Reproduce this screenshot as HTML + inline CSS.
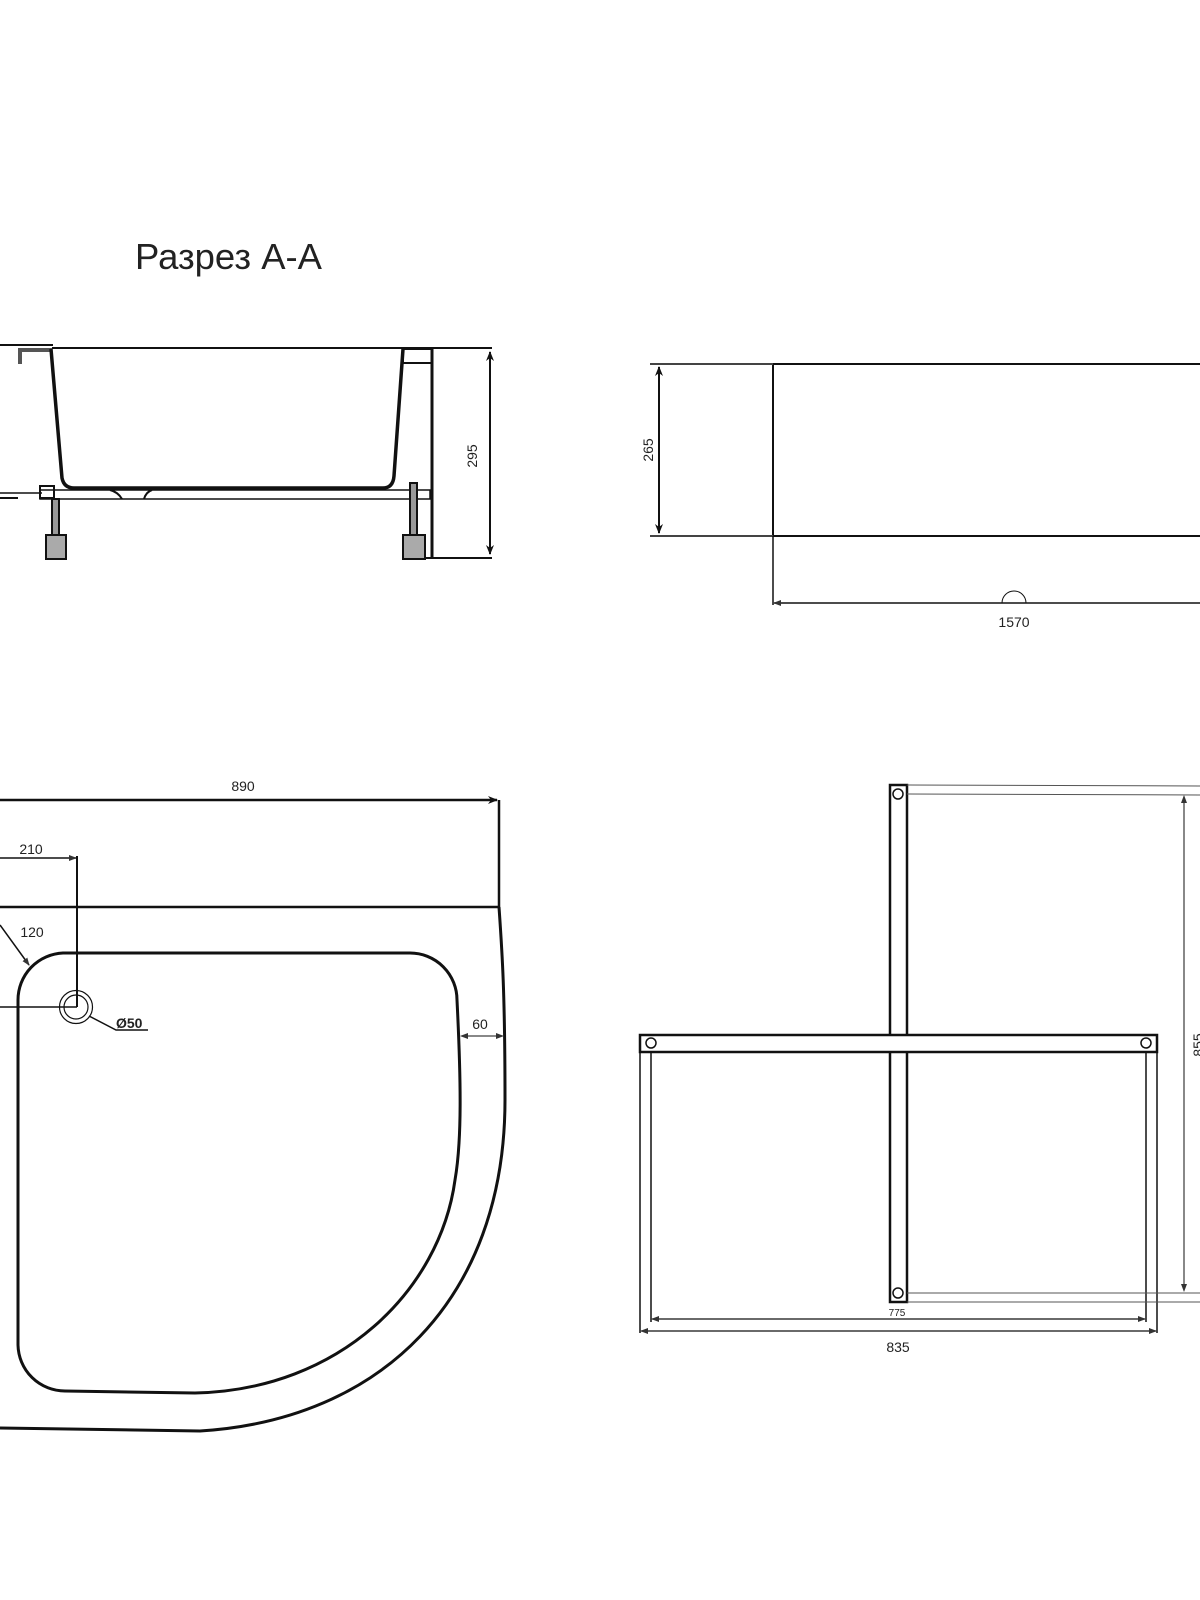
<!DOCTYPE html>
<html><head><meta charset="utf-8"><style>
html,body{margin:0;padding:0;background:#fff;}
svg{display:block;}
text{font-family:"Liberation Sans",sans-serif;fill:#222;}
</style></head><body>
<svg width="1200" height="1600" viewBox="0 0 1200 1600" xmlns="http://www.w3.org/2000/svg">
<defs>
<marker id="a" markerWidth="10" markerHeight="8" refX="9" refY="4" orient="auto-start-reverse" markerUnits="userSpaceOnUse"><path d="M0,0 L10,4 L0,8 L3,4 Z" fill="#111"/></marker>
<marker id="s" markerWidth="8" markerHeight="6" refX="7" refY="3" orient="auto-start-reverse" markerUnits="userSpaceOnUse"><path d="M0,0 L8,3 L0,6 Z" fill="#333"/></marker>
</defs>

<text x="135" y="269" font-size="36" textLength="187" lengthAdjust="spacingAndGlyphs" fill="#111">Разрез А-А</text>

<g stroke="#111" fill="none">
<line x1="52" y1="348" x2="492" y2="348" stroke-width="2"/>
<line x1="0" y1="345" x2="53" y2="345" stroke-width="2"/>
<path d="M20,364 L20,350 L52,350" stroke-width="4" stroke="#555"/>
<path d="M51,349 L62,478 Q64,488 74,488 L383,488 Q393,488 394,476 L403,349" stroke-width="3.5"/>
<rect x="403" y="349" width="29" height="14" stroke-width="2"/>
<line x1="432" y1="348" x2="432" y2="558" stroke-width="3"/>
<line x1="405" y1="558" x2="492" y2="558" stroke-width="2"/>
<line x1="490" y1="352" x2="490" y2="554" stroke-width="2" marker-start="url(#a)" marker-end="url(#a)"/>
<path d="M40,490 L430,490 L430,499 L150,499 Q145,499 140,499 L120,499 L40,499 Z" stroke-width="1.5"/>
<path d="M110,490 Q118,492 122,499 M152,490 Q146,492 144,499" stroke-width="2"/>
<line x1="0" y1="498" x2="18" y2="498" stroke-width="2"/>
<line x1="0" y1="493" x2="42" y2="493" stroke-width="1.5"/>
<rect x="40" y="486" width="14" height="12" stroke-width="2"/>
<rect x="52" y="499" width="7" height="36" stroke-width="2" fill="#999"/>
<rect x="46" y="535" width="20" height="24" stroke-width="2" fill="#aaa"/>
<rect x="410" y="483" width="7" height="52" stroke-width="2" fill="#999"/>
<rect x="403" y="535" width="22" height="24" stroke-width="2" fill="#aaa"/>
</g>
<text transform="translate(477,456) rotate(-90)" font-size="14" text-anchor="middle">295</text>

<g stroke="#111" fill="none">
<rect x="773" y="364" width="440" height="172" stroke-width="2"/>
<line x1="650" y1="364" x2="773" y2="364" stroke-width="2" stroke="#444"/>
<line x1="650" y1="536" x2="773" y2="536" stroke-width="2" stroke="#444"/>
<line x1="659" y1="367" x2="659" y2="533" stroke-width="2" marker-start="url(#a)" marker-end="url(#a)"/>
<line x1="773" y1="536" x2="773" y2="605" stroke-width="1.5"/>
<line x1="774" y1="603" x2="1200" y2="603" stroke-width="1.5" marker-start="url(#s)"/>
<path d="M1002,603 A12,12 0 0 1 1026,603" stroke-width="1"/>
</g>
<text transform="translate(653,450) rotate(-90)" font-size="14" text-anchor="middle">265</text>
<text x="1014" y="627" font-size="14" text-anchor="middle">1570</text>

<g stroke="#111" fill="none">
<line x1="0" y1="800" x2="497" y2="800" stroke-width="2.5" marker-end="url(#a)"/>
<line x1="499" y1="800" x2="499" y2="907" stroke-width="2.5"/>
<line x1="0" y1="907" x2="499" y2="907" stroke-width="2.5"/>
<line x1="0" y1="858" x2="76" y2="858" stroke-width="1.5" marker-end="url(#s)"/>
<line x1="77" y1="856" x2="77" y2="1007" stroke-width="2"/>
<line x1="0" y1="1007" x2="77" y2="1007" stroke-width="1.5"/>
<line x1="0" y1="925" x2="29" y2="965" stroke-width="1.5" marker-end="url(#s)"/>
<path d="M499,907 C502,950 505,990 505,1100 C505,1300 380,1420 200,1431 L0,1428" stroke-width="3"/>
<path d="M63,953 L410,953 A47,47 0 0 1 457,1000 C461,1080 462,1140 455,1180 C440,1290 340,1390 195,1393 L65,1391 A47,47 0 0 1 18,1345 L18,1000 A47,47 0 0 1 63,953 Z" stroke-width="3"/>
<circle cx="76" cy="1007" r="16.5" stroke-width="1.2"/>
<circle cx="76" cy="1007" r="12" stroke-width="1.2"/>
<path d="M89,1016 L116,1030 L148,1030" stroke-width="1.5"/>
<line x1="461" y1="1036" x2="503" y2="1036" stroke-width="1" marker-start="url(#s)" marker-end="url(#s)"/>
</g>
<text x="243" y="791" font-size="14" text-anchor="middle">890</text>
<text x="31" y="854" font-size="14" text-anchor="middle">210</text>
<text x="32" y="937" font-size="14" text-anchor="middle">120</text>
<text x="116" y="1028" font-size="14" font-weight="bold" fill="#111">Ø50</text>
<text x="480" y="1029" font-size="14" text-anchor="middle">60</text>

<g stroke="#111" fill="none">
<rect x="890" y="785" width="17" height="517" stroke-width="2.5" fill="#fff"/>
<rect x="640" y="1035" width="517" height="17" stroke-width="2.5" fill="#fff"/>
<circle cx="898" cy="794" r="5" stroke-width="1.5"/>
<circle cx="898" cy="1293" r="5" stroke-width="1.5"/>
<circle cx="651" cy="1043" r="5" stroke-width="1.5"/>
<circle cx="1146" cy="1043" r="5" stroke-width="1.5"/>
<line x1="640" y1="1052" x2="640" y2="1333" stroke-width="1.5"/>
<line x1="651" y1="1052" x2="651" y2="1322" stroke-width="1.5"/>
<line x1="1146" y1="1052" x2="1146" y2="1322" stroke-width="1.5"/>
<line x1="1157" y1="1052" x2="1157" y2="1333" stroke-width="1.5"/>
<line x1="652" y1="1319" x2="1145" y2="1319" stroke-width="1.2" marker-start="url(#s)" marker-end="url(#s)"/>
<line x1="641" y1="1331" x2="1156" y2="1331" stroke-width="1.2" marker-start="url(#s)" marker-end="url(#s)"/>
<line x1="907" y1="785" x2="1200" y2="786" stroke-width="1" stroke="#555"/>
<line x1="907" y1="794" x2="1200" y2="795" stroke-width="1" stroke="#555"/>
<line x1="907" y1="1293" x2="1200" y2="1293" stroke-width="1" stroke="#555"/>
<line x1="907" y1="1302" x2="1200" y2="1302" stroke-width="1" stroke="#555"/>
<line x1="1184" y1="796" x2="1184" y2="1291" stroke-width="1" marker-start="url(#s)" marker-end="url(#s)"/>
</g>
<text x="897" y="1316" font-size="10" text-anchor="middle">775</text>
<text x="898" y="1352" font-size="14" text-anchor="middle">835</text>
<text transform="translate(1203,1045) rotate(-90)" font-size="14" text-anchor="middle">855</text>
</svg>
</body></html>
